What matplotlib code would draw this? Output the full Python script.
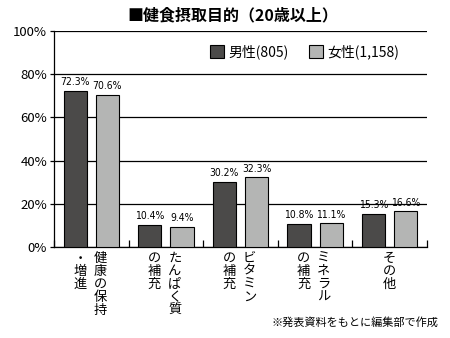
import matplotlib
matplotlib.use("Agg")
import matplotlib.pyplot as plt
from matplotlib.patches import Patch

plt.rcParams['font.family'] = ['Noto Sans CJK JP', 'DejaVu Sans']

title = "■健食摂取目的（20歳以上）"
# vertical label columns: (left column, right column)
categories = [("・増進", "健康の保持"),
              ("の補充", "たんぱく質"),
              ("の補充", "ビタミン"),
              ("の補充", "ミネラル"),
              ("", "その他")]
series_names = ["男性(805)", "女性(1,158)"]
male = [72.3, 10.4, 30.2, 10.8, 15.3]
female = [70.6, 9.4, 32.3, 11.1, 16.6]
yticks = [0, 20, 40, 60, 80, 100]
ytick_labels = ["0%", "20%", "40%", "60%", "80%", "100%"]
footnote = "※発表資料をもとに編集部で作成"

dark = "#4b4a49"
light = "#b4b5b4"

fig = plt.figure(figsize=(4.5, 3.38), dpi=100)
ax = fig.add_axes([54/450, 1-247/338, 373/450, 216/338])

n = len(male)
xs = list(range(n))
w = 0.31
off = 0.215
b1 = ax.bar([x - off for x in xs], male, width=w, color=dark, edgecolor="black", linewidth=0.8, zorder=3)
b2 = ax.bar([x + off for x in xs], female, width=w, color=light, edgecolor="black", linewidth=0.8, zorder=3)

num_font = dict(family=['DejaVu Sans'], stretch='condensed', fontsize=7.5)
for bars, vals in ((b1, male), (b2, female)):
    for r, v in zip(bars, vals):
        ax.annotate(f"{v:.1f}%", xy=(r.get_x() + r.get_width()/2, v),
                    xytext=(0, 2.5), textcoords="offset points",
                    ha="center", va="bottom", **num_font)

ax.set_xlim(-0.5, n - 0.5)
ax.set_ylim(0, 100)
ax.set_yticks(yticks)
ax.set_yticklabels(ytick_labels, fontsize=9.5)
ax.yaxis.grid(True, color="black", linewidth=0.9, zorder=0)
ax.set_axisbelow(True)
for s in ("top", "right"):
    ax.spines[s].set_visible(False)
ax.spines["left"].set_linewidth(0.9)
ax.spines["bottom"].set_linewidth(0.9)
ax.tick_params(axis="y", length=3, width=0.9, direction="out", pad=2)
ax.set_xticks([x + 0.5 for x in range(-1, n)])
ax.set_xticklabels([])
ax.tick_params(axis="x", length=5, width=0.9, direction="in")

# vertical category labels
step = 9.4
for x, (lc, rc) in zip(xs, categories):
    cols = []
    if lc:
        cols.append((x - 0.153, lc))
        cols.append((x + 0.12, rc))
    else:
        cols.append((x, rc))
    for cx, text in cols:
        for i, ch in enumerate(text):
            ax.annotate(ch, xy=(cx, 0), xycoords=("data", "axes fraction"),
                        xytext=(0, -3.5 - i*step), textcoords="offset points",
                        ha="center", va="top", fontsize=9.5)

handles = [Patch(facecolor=dark, edgecolor="black", linewidth=0.8),
           Patch(facecolor=light, edgecolor="black", linewidth=0.8)]
ax.legend(handles, series_names, loc="center", bbox_to_anchor=(0.672, 0.903),
          ncol=2, frameon=False, fontsize=10, handlelength=1.0, handleheight=1.0,
          handletextpad=0.3, columnspacing=1.5)

fig.text(233/450, 1-15/338, title, ha="center", va="center", fontsize=11.5, fontweight="bold")
fig.text(438/450, 1-322/338, footnote, ha="right", va="center", fontsize=8)

fig.savefig("out.png", dpi=100)
